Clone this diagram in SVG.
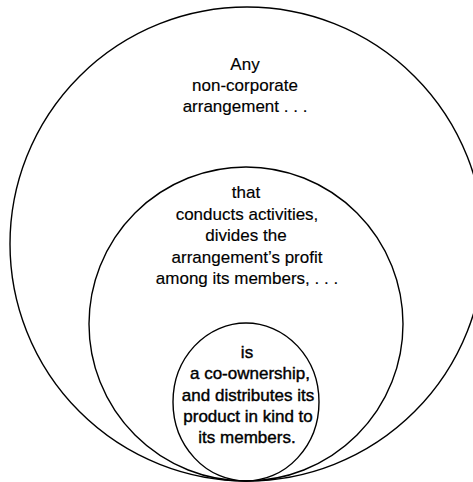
<svg xmlns="http://www.w3.org/2000/svg" width="473" height="482" viewBox="0 0 473 482">
  <style>
    .ring { fill: none; stroke: #000; stroke-width: 1.4; }
    .lbl { font-family: "Liberation Sans", Arial, sans-serif; font-size: 17px; fill: #000; text-anchor: middle; stroke: #000; stroke-width: 0.15; }
    .bold { stroke-width: 0.4; }
  </style>
  <rect x="0" y="0" width="473" height="482" fill="#fff"/>
  <g id="outer">
    <circle class="ring" cx="247" cy="244" r="237"/>
    <text class="lbl" x="245" y="70">Any</text>
    <text class="lbl" x="245" y="91">non-corporate</text>
    <text class="lbl" x="245" y="112">arrangement . . .</text>
  </g>
  <g id="middle">
    <circle class="ring" cx="246" cy="324" r="157"/>
    <text class="lbl" x="246" y="198">that</text>
    <text class="lbl" x="247" y="220">conducts activities,</text>
    <text class="lbl" x="246" y="241">divides the</text>
    <text class="lbl" x="247" y="263">arrangement’s profit</text>
    <text class="lbl" x="247" y="284">among its members, . . .</text>
  </g>
  <g id="inner">
    <ellipse class="ring" cx="246" cy="402" rx="73" ry="79"/>
    <text class="lbl bold" x="247" y="358">is</text>
    <text class="lbl bold" x="250" y="379">a co-ownership,</text>
    <text class="lbl bold" x="248" y="401">and distributes its</text>
    <text class="lbl bold" x="248" y="422">product in kind to</text>
    <text class="lbl bold" x="247" y="443">its members.</text>
  </g>
</svg>
